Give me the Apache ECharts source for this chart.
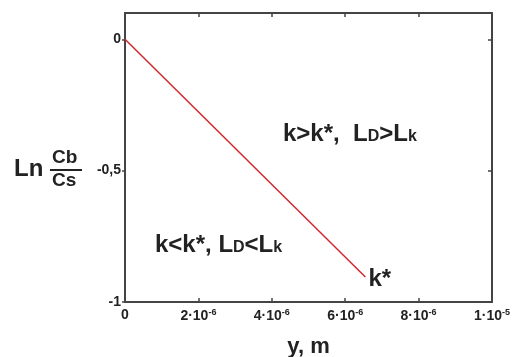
<!DOCTYPE html>
<html>
<head>
<meta charset="utf-8">
<script src="https://cdn.jsdelivr.net/npm/echarts@6/dist/echarts.min.js"></script>
<style>
  html, body { margin: 0; padding: 0; background: #fff; }
  #main { width: 517px; height: 357px; }
</style>
</head>
<body>
<div id="main"></div>
<script>
  // data
  var lineX = [0, 6.55e-6];
  var lineY = [0, -0.905];
  var xTicks = [0, 2e-6, 4e-6, 6e-6, 8e-6, 1e-5];
  var xTickMant = ['0', '2', '4', '6', '8', '1'];
  var xTickExp = ['', '-6', '-6', '-6', '-6', '-5'];
  var yTicks = [-1, -0.5, 0];
  var yTickLabels = ['-1', '-0,5', '0'];

  var font = '"Liberation Sans", Arial, sans-serif';
  var boxColor = '#444';

  var myChart = echarts.init(document.getElementById('main'));

  var points = [];
  for (var i = 0; i < lineX.length; i++) {
    points.push([lineX[i], lineY[i]]);
  }

  function xLabel(v) {
    var idx = -1;
    for (var i = 0; i < xTicks.length; i++) {
      if (Math.abs(xTicks[i] - v) < 1e-9) idx = i;
    }
    if (idx < 0) return '';
    if (!xTickExp[idx]) return '{m|' + xTickMant[idx] + '}';
    return '{m|' + xTickMant[idx] + '·10}{e|' + xTickExp[idx] + '}';
  }

  function yLabel(v) {
    for (var i = 0; i < yTicks.length; i++) {
      if (Math.abs(yTicks[i] - v) < 1e-9) return yTickLabels[i];
    }
    return '';
  }

  var subText = {
    a: { fontFamily: font, fontWeight: 'bold', fontSize: 24, fill: '#222' },
    s: { fontFamily: font, fontWeight: 'bold', fontSize: 16, fill: '#222', padding: [5, 0, 0, 0] }
  };

  var option = {
    animation: false,
    grid: { left: 125, top: 13, right: 25, bottom: 55, outerBoundsMode: 'none' },
    xAxis: [
      {
        type: 'value', position: 'bottom',
        min: 0, max: 1e-5, interval: 2e-6,
        name: 'y, m', nameLocation: 'middle', nameGap: 34,
        nameTextStyle: { fontFamily: font, fontWeight: 'bold', fontSize: 22, color: '#222' },
        axisLine: { show: true, onZero: false, lineStyle: { color: boxColor, width: 2 } },
        axisTick: { show: true, inside: true, length: 4, lineStyle: { color: boxColor, width: 1.5 } },
        splitLine: { show: false },
        axisLabel: {
          margin: 6, formatter: xLabel,
          rich: {
            m: { fontFamily: font, fontWeight: 'bold', fontSize: 14, color: '#222' },
            e: { fontFamily: font, fontWeight: 'bold', fontSize: 9, color: '#222', verticalAlign: 'top', padding: [0, 0, 7, 0] }
          }
        }
      },
      {
        type: 'value', position: 'top',
        min: 0, max: 1e-5, interval: 2e-6,
        axisLine: { show: true, onZero: false, lineStyle: { color: boxColor, width: 2 } },
        axisTick: { show: true, inside: true, length: 4, lineStyle: { color: boxColor, width: 1.5 } },
        axisLabel: { show: false },
        splitLine: { show: false }
      }
    ],
    yAxis: [
      {
        type: 'value', position: 'left',
        min: -1, max: 0.1,
        axisLine: { show: true, onZero: false, lineStyle: { color: boxColor, width: 2 } },
        axisTick: { show: true, customValues: yTicks, length: 3, lineStyle: { color: boxColor, width: 1.5 } },
        splitLine: { show: false },
        axisLabel: {
          customValues: yTicks, formatter: yLabel, margin: 4,
          fontFamily: font, fontWeight: 'bold', fontSize: 14, color: '#222'
        }
      },
      {
        type: 'value', position: 'right',
        min: -1, max: 0.1,
        axisLine: { show: true, onZero: false, lineStyle: { color: boxColor, width: 2 } },
        axisTick: { show: true, inside: true, customValues: [-0.5, 0], length: 4, lineStyle: { color: boxColor, width: 1.5 } },
        axisLabel: { show: false },
        splitLine: { show: false }
      }
    ],
    series: [
      {
        type: 'line',
        data: points,
        symbol: 'none',
        lineStyle: { color: '#d0282c', width: 1.5 },
        endLabel: {
          show: true, formatter: 'k*', distance: 3, offset: [0, 2],
          fontFamily: font, fontWeight: 'bold', fontSize: 24, color: '#222'
        }
      }
    ],
    graphic: [
      {
        type: 'text', left: 283, top: 122,
        style: { text: '{a|k>k*,  L}{s|D}{a|>L}{s|k}', rich: subText }
      },
      {
        type: 'text', left: 155, top: 233,
        style: { text: '{a|k<k*, L}{s|D}{a|<L}{s|k}', rich: subText }
      },
      {
        type: 'text', left: 14, top: 157,
        style: { text: 'Ln', fontFamily: font, fontWeight: 'bold', fontSize: 24, fill: '#222' }
      },
      {
        type: 'text', left: 52, top: 148,
        style: { text: 'Cb', fontFamily: font, fontWeight: 'bold', fontSize: 19, fill: '#222' }
      },
      {
        type: 'line', shape: { x1: 50, y1: 170, x2: 82, y2: 170 },
        style: { stroke: '#222', lineWidth: 2 }
      },
      {
        type: 'text', left: 52, top: 171,
        style: { text: 'Cs', fontFamily: font, fontWeight: 'bold', fontSize: 19, fill: '#222' }
      }
    ]
  };

  myChart.setOption(option);
</script>
</body>
</html>
